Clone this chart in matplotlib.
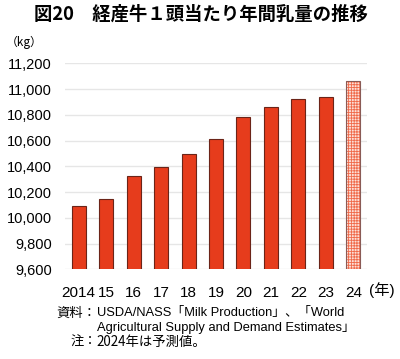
import numpy as np
import matplotlib.pyplot as plt

plt.rcParams['font.family'] = ['Liberation Sans', 'Noto Sans CJK JP', 'DejaVu Sans']
plt.rcParams['hatch.linewidth'] = 0.6

years = ['2014', '15', '16', '17', '18', '19', '20', '21', '22', '23', '24']
milk_kg = [10092, 10149, 10322, 10392, 10496, 10610, 10783, 10861, 10926, 10939, 11066]
yticks = [9600, 9800, 10000, 10200, 10400, 10600, 10800, 11000, 11200]

bar_color = '#e63c1c'
edge_color = '#6b2418'

fig = plt.figure(figsize=(4.0, 3.59), dpi=100)
ax = fig.add_axes([0.1625, 0.2499, 0.755, 0.5738])

x = np.arange(len(years))
ax.bar(x[:-1], milk_kg[:-1], width=0.51, color=bar_color,
       edgecolor=edge_color, linewidth=0.8, zorder=3)
# 2024 forecast: hatched bar
ax.bar(x[-1], milk_kg[-1], width=0.51, color='#fde0d8', edgecolor='#f06a4a',
       hatch='++++++', linewidth=0, zorder=3)
ax.bar(x[-1], milk_kg[-1], width=0.51, color='none', edgecolor='#8a5a55',
       linewidth=0.8, zorder=4)

ax.set_ylim(9600, 11200)
ax.set_xlim(-0.5, len(years) - 0.5)
ax.set_yticks(yticks)
ax.set_yticklabels([f'{v:,}' for v in yticks], fontsize=10.5)
ax.tick_params(axis='y', length=0, pad=9.5)
ax.set_xticks(x)
ax.set_xticklabels(years, fontsize=11)
ax.tick_params(axis='x', length=0, pad=12)
for s in ax.spines.values():
    s.set_visible(False)
ax.grid(axis='y', color='#e6e6e6', linewidth=1.0, zorder=0)

ax.text(1.05, -0.10, '(年)', transform=ax.transAxes, ha='center',
        va='center', fontsize=11)

fig.text(0.502, 0.96, '図20　経産牛１頭当たり年間乳量の推移', ha='center', va='center',
         fontsize=13.2, fontweight='bold', family=['Noto Sans CJK JP'])
fig.text(0.06, 0.883, '（kg）', ha='center', va='center', fontsize=8.5,
         family=['Noto Sans CJK JP'])

cjk = ['Noto Sans CJK JP']
fig.text(0.242, 0.128, '資料：', ha='right', va='center', fontsize=9.6, family=cjk)
fig.text(0.242, 0.128, 'USDA/NASS「Milk Production」、「World', ha='left',
         va='center', fontsize=9.3)
fig.text(0.242, 0.087, 'Agricultural Supply and Demand Estimates」', ha='left',
         va='center', fontsize=9.3)
fig.text(0.242, 0.048, '注：', ha='right', va='center', fontsize=9.6, family=cjk)
fig.text(0.242, 0.048, '2024年は予測値。', ha='left', va='center', fontsize=9.6,
         family=cjk)

fig.savefig('out.png', dpi=100)
